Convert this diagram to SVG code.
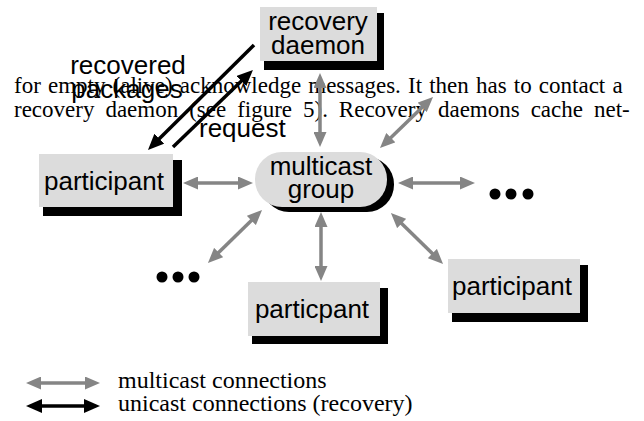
<svg xmlns="http://www.w3.org/2000/svg" width="644" height="421" viewBox="0 0 644 421">
  <style>
    .box { fill: #dcdcdc; }
    .shadow { fill: #000; }
    .label { font-family: "Liberation Sans", Arial, sans-serif; font-size: 26px; fill: #000; text-anchor: middle; }
    .note { font-family: "Liberation Sans", Arial, sans-serif; font-size: 26px; fill: #000; }
    .body { font-family: "Liberation Serif", "Times New Roman", serif; font-size: 23px; fill: #000; }
    .key { font-family: "Liberation Serif", "Times New Roman", serif; font-size: 24px; fill: #000; }
    .multi { stroke: #858585; stroke-width: 3.5; fill: none; marker-start: url(#grayHead); marker-end: url(#grayHead); }
    .uni { stroke: #000; stroke-width: 3.5; fill: none; marker-end: url(#blackHead); }
    .uni2 { marker-start: url(#blackHead); }
    .dot { fill: #000; }
  </style>
  <defs>
    <marker id="grayHead" viewBox="0 0 15 13" refX="4" refY="6.5" markerWidth="15" markerHeight="13" markerUnits="userSpaceOnUse" orient="auto-start-reverse">
      <path d="M0,0 L15,6.5 L0,13 z" fill="#858585"/>
    </marker>
    <marker id="blackHead" viewBox="0 0 16 14" refX="4" refY="7" markerWidth="16" markerHeight="14" markerUnits="userSpaceOnUse" orient="auto-start-reverse">
      <path d="M0,0 L16,7 L0,14 z" fill="#000"/>
    </marker>
  </defs>

  <rect width="644" height="421" fill="#fff"/>

  <!-- running text of the page behind the figure, justified by word spacing -->
  <g id="page-text">
    <text class="body" x="14" y="93" word-spacing="1.4">for empty (alive) acknowledge messages. It then has to contact a</text>
    <text class="body" x="14" y="117" word-spacing="5.2">recovery daemon (see figure 5). Recovery daemons cache net-</text>
  </g>

  <!-- nodes -->
  <g id="recovery-daemon">
    <rect class="shadow" x="264" y="13" width="120" height="57"/>
    <rect class="box" x="260" y="7" width="117" height="54"/>
    <text class="label" x="318" y="30">recovery</text>
    <text class="label" x="318" y="54">daemon</text>
  </g>

  <g id="participant-left">
    <rect class="shadow" x="43" y="160" width="139" height="56"/>
    <rect class="box" x="39" y="154" width="134" height="53"/>
    <text class="label" x="104" y="190">participant</text>
  </g>

  <g id="multicast-group">
    <rect class="shadow" x="262" y="157" width="132" height="55" rx="27" ry="27"/>
    <rect class="box" x="255" y="152" width="132" height="55" rx="27" ry="27"/>
    <text class="label" x="321" y="175">multicast</text>
    <text class="label" x="321" y="198">group</text>
  </g>

  <g id="participant-right">
    <rect class="shadow" x="452" y="265" width="136" height="57"/>
    <rect class="box" x="448" y="259" width="132" height="54"/>
    <text class="label" x="512" y="295">participant</text>
  </g>

  <g id="participant-bottom">
    <rect class="shadow" x="252" y="288" width="136" height="56"/>
    <rect class="box" x="248" y="282" width="132" height="54"/>
    <text class="label" x="312" y="318">particpant</text>
  </g>

  <g id="more-right">
    <circle class="dot" cx="495" cy="194" r="5.5"/>
    <circle class="dot" cx="511" cy="194" r="5.5"/>
    <circle class="dot" cx="528" cy="194" r="5.5"/>
  </g>

  <g id="more-left">
    <circle class="dot" cx="162" cy="277" r="5.5"/>
    <circle class="dot" cx="178" cy="277" r="5.5"/>
    <circle class="dot" cx="194" cy="277" r="5.5"/>
  </g>

  <!-- connectors -->
  <g id="connectors">
    <line class="multi" x1="194" y1="183" x2="242" y2="183"/>
    <line class="multi" x1="409" y1="183" x2="464" y2="183"/>
    <line class="multi" x1="320" y1="84" x2="320" y2="136"/>
    <line class="multi" x1="387.9" y1="140.4" x2="425.1" y2="104.6"/>
    <line class="multi" x1="398.8" y1="220.7" x2="435.2" y2="256.3"/>
    <line class="multi" x1="321" y1="223" x2="321" y2="270"/>
    <line class="multi" x1="254.2" y1="217.7" x2="215.8" y2="255.3"/>

    <line class="uni" x1="254" y1="45" x2="156.5" y2="141.5"/>
    <line class="uni" x1="173" y1="147" x2="244.3" y2="78.3"/>
  </g>

  <g id="connector-labels">
    <text class="label" x="128" y="74">recovered</text>
    <text class="label" x="127" y="98">packages</text>
    <text class="note" x="199" y="137">request</text>
  </g>

  <!-- legend -->
  <g id="legend">
    <line class="multi" x1="37" y1="383" x2="89" y2="383"/>
    <text class="key" x="118" y="388">multicast connections</text>
    <line class="uni uni2" x1="38" y1="406" x2="88" y2="406"/>
    <text class="key" x="118" y="411">unicast connections (recovery)</text>
  </g>
</svg>
